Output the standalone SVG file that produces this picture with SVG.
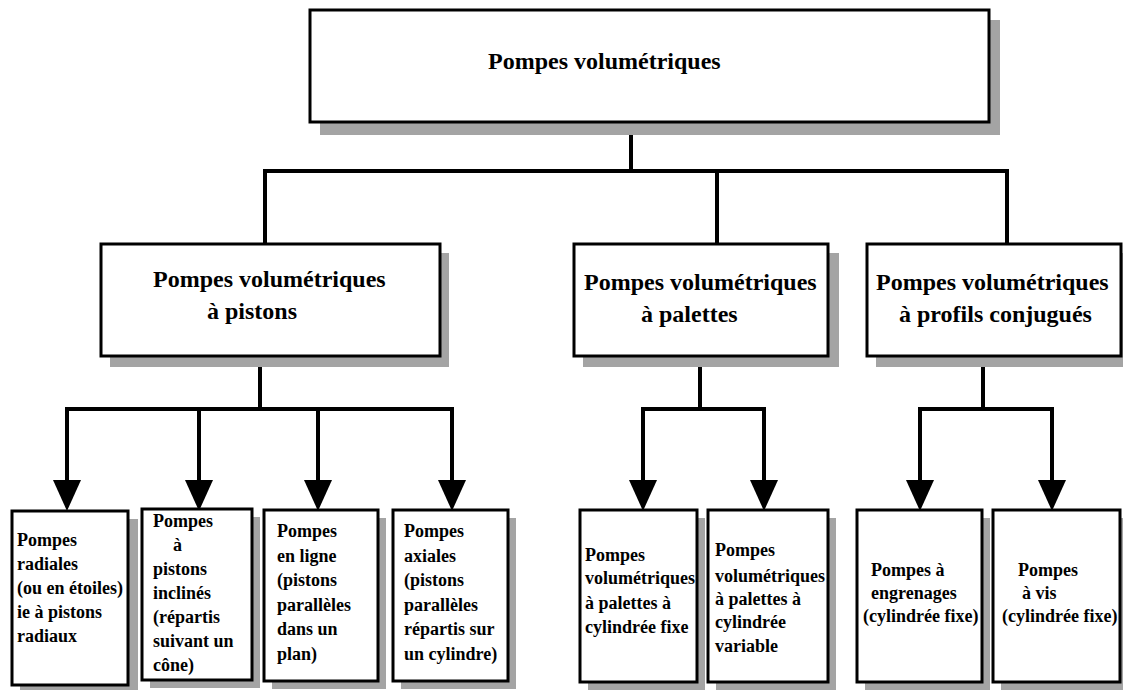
<svg xmlns="http://www.w3.org/2000/svg" width="1123" height="690" viewBox="0 0 1123 690">
<style>
.box{fill:#fff;stroke:#000;stroke-width:3}
.sh{fill:#a4a4a4}
.con{fill:none;stroke:#000;stroke-width:4;stroke-linecap:square;stroke-linejoin:miter}
.t24{font-family:"Liberation Serif","Times New Roman",serif;font-weight:bold;font-size:24px;fill:#000}
.t18{font-family:"Liberation Serif","Times New Roman",serif;font-weight:bold;font-size:18px;fill:#000}
</style>
<defs>
<marker id="ah" markerUnits="userSpaceOnUse" viewBox="0 0 31 28" markerWidth="31" markerHeight="28" refX="0" refY="14" orient="auto">
<path d="M0,0 L31,14 L0,28 Z" fill="#000"/>
</marker>
</defs>
<rect width="1123" height="690" fill="#fff"/>

<g id="connectors">
<path class="con" d="M631,122 V171"/>
<path class="con" d="M631,171 H265 V243"/>
<path class="con" d="M631,171 H1007 V243"/>
<path class="con" d="M717,171 V243"/>
<path class="con" d="M260,356 V409"/>
<path class="con" d="M260,409 H67 V480" marker-end="url(#ah)"/>
<path class="con" d="M260,409 H452 V480" marker-end="url(#ah)"/>
<path class="con" d="M199,409 V480" marker-end="url(#ah)"/>
<path class="con" d="M318,409 V480" marker-end="url(#ah)"/>
<path class="con" d="M700,356 V409"/>
<path class="con" d="M700,409 H643 V480" marker-end="url(#ah)"/>
<path class="con" d="M700,409 H764 V480" marker-end="url(#ah)"/>
<path class="con" d="M983,356 V409"/>
<path class="con" d="M983,409 H920 V480" marker-end="url(#ah)"/>
<path class="con" d="M983,409 H1052 V480" marker-end="url(#ah)"/>
</g>

<g id="n-root">
<rect class="sh" x="320" y="20" width="680" height="115"/>
<rect class="box" x="310" y="10" width="679" height="112"/>
<text class="t24" x="488" y="69">Pompes volumétriques</text>
</g>

<g id="n-pistons">
<rect class="sh" x="110" y="253" width="339" height="114"/>
<rect class="box" x="101" y="244" width="339" height="112"/>
<text class="t24" x="153" y="287">Pompes volumétriques</text>
<text class="t24" x="207" y="319">à pistons</text>
</g>

<g id="n-palettes">
<rect class="sh" x="583" y="253" width="256" height="114"/>
<rect class="box" x="574" y="244" width="254" height="112"/>
<text class="t24" x="584" y="290">Pompes volumétriques</text>
<text class="t24" x="641" y="322">à palettes</text>
</g>

<g id="n-profils">
<rect class="sh" x="876" y="253" width="256" height="114"/>
<rect class="box" x="867" y="244" width="254" height="112"/>
<text class="t24" x="876" y="290">Pompes volumétriques</text>
<text class="t24" x="899" y="322">à profils conjugués</text>
</g>

<g id="n-radiales">
<rect class="sh" x="20" y="519" width="118" height="176"/>
<rect class="box" x="12" y="511" width="116" height="174"/>
<text class="t18" x="17" y="546">Pompes</text>
<text class="t18" x="17" y="570">radiales</text>
<text class="t18" x="17" y="594">(ou en étoiles)</text>
<text class="t18" x="17" y="618">ie à pistons</text>
<text class="t18" x="17" y="642">radiaux</text>
</g>

<g id="n-inclines">
<rect class="sh" x="150" y="517" width="110" height="171"/>
<rect class="box" x="142" y="509" width="110" height="171"/>
<text class="t18" x="153" y="527">Pompes</text>
<text class="t18" x="173" y="551">à</text>
<text class="t18" x="153" y="575">pistons</text>
<text class="t18" x="153" y="599">inclinés</text>
<text class="t18" x="153" y="623">(répartis</text>
<text class="t18" x="153" y="647">suivant un</text>
<text class="t18" x="153" y="671">cône)</text>
</g>

<g id="n-ligne">
<rect class="sh" x="272" y="518" width="114" height="171"/>
<rect class="box" x="264" y="510" width="114" height="171"/>
<text class="t18" x="277" y="537">Pompes</text>
<text class="t18" x="277" y="562">en ligne</text>
<text class="t18" x="277" y="586">(pistons</text>
<text class="t18" x="277" y="611">parallèles</text>
<text class="t18" x="277" y="635">dans un</text>
<text class="t18" x="277" y="660">plan)</text>
</g>

<g id="n-axiales">
<rect class="sh" x="401" y="518" width="115" height="171"/>
<rect class="box" x="393" y="510" width="115" height="171"/>
<text class="t18" x="404" y="537">Pompes</text>
<text class="t18" x="404" y="562">axiales</text>
<text class="t18" x="404" y="586">(pistons</text>
<text class="t18" x="404" y="611">parallèles</text>
<text class="t18" x="404" y="635">répartis sur</text>
<text class="t18" x="404" y="660">un cylindre)</text>
</g>

<g id="n-pal-fixe">
<rect class="sh" x="588" y="518" width="117" height="172"/>
<rect class="box" x="580" y="510" width="117" height="172"/>
<text class="t18" x="585" y="561">Pompes</text>
<text class="t18" x="585" y="584">volumétriques</text>
<text class="t18" x="585" y="609">à palettes à</text>
<text class="t18" x="585" y="633">cylindrée fixe</text>
</g>

<g id="n-pal-var">
<rect class="sh" x="716" y="518" width="120" height="172"/>
<rect class="box" x="708" y="510" width="120" height="172"/>
<text class="t18" x="715" y="556">Pompes</text>
<text class="t18" x="715" y="582">volumétriques</text>
<text class="t18" x="715" y="605">à palettes à</text>
<text class="t18" x="715" y="628">cylindrée</text>
<text class="t18" x="715" y="652">variable</text>
</g>

<g id="n-engrenages">
<rect class="sh" x="865" y="518" width="125" height="172"/>
<rect class="box" x="857" y="510" width="125" height="172"/>
<text class="t18" x="871" y="576">Pompes à</text>
<text class="t18" x="871" y="599">engrenages</text>
<text class="t18" x="863" y="622">(cylindrée fixe)</text>
</g>

<g id="n-vis">
<rect class="sh" x="1001" y="518" width="127" height="172"/>
<rect class="box" x="993" y="510" width="127" height="172"/>
<text class="t18" x="1018" y="576">Pompes</text>
<text class="t18" x="1022" y="599">à vis</text>
<text class="t18" x="1002" y="622">(cylindrée fixe)</text>
</g>
</svg>
